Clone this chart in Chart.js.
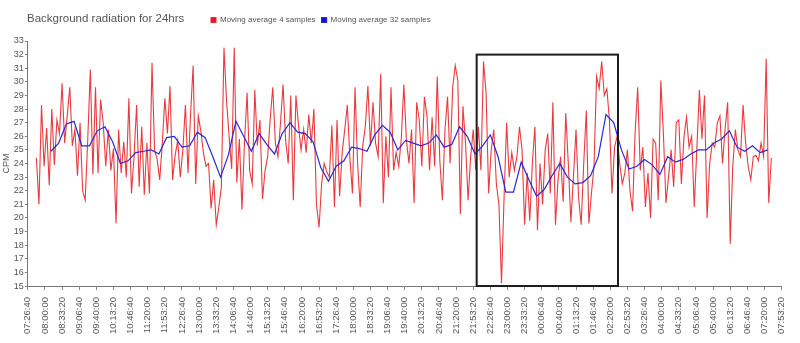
<!DOCTYPE html>
<html>
<head>
<meta charset="utf-8">
<title>Background radiation for 24hrs</title>
<script src="https://cdn.jsdelivr.net/npm/chart.js@4.4.1/dist/chart.umd.min.js"></script>
<style>
  html, body { margin: 0; padding: 0; background: #fff; overflow: hidden; }
  canvas { display: block; }
</style>
</head>
<body>
<canvas id="radiation" width="800" height="343"></canvas>
<script>
const chartTitle = "Background radiation for 24hrs";
const yTitle = "CPM";

// x values are seconds after the first tick, one tick every 2000 s
const axisStart = "07:26:40";
const tickStep = 2000;
const tickLabels = [
    "07:26:40", "08:00:00", "08:33:20", "09:06:40", "09:40:00", "10:13:20", "10:46:40", "11:20:00",
    "11:53:20", "12:26:40", "13:00:00", "13:33:20", "14:06:40", "14:40:00", "15:13:20", "15:46:40",
    "16:20:00", "16:53:20", "17:26:40", "18:00:00", "18:33:20", "19:06:40", "19:40:00", "20:13:20",
    "20:46:40", "21:20:00", "21:53:20", "22:26:40", "23:00:00", "23:33:20", "00:06:40", "00:40:00",
    "01:13:20", "01:46:40", "02:20:00", "02:53:20", "03:26:40", "04:00:00", "04:33:20", "05:06:40",
    "05:40:00", "06:13:20", "06:46:40", "07:20:00", "07:53:20"
];
const cpmMin = 15;
const cpmMax = 33;

// 4 sample moving average, one value every 5 minutes
const avg4Label = "Moving average 4 samples";
const avg4Start = "07:43:20";
const avg4Step = 300;
const avg4 = [
    24.4, 21.0, 28.3, 23.8, 26.6, 22.4, 28.0, 23.9, 27.2, 26.2,
    29.9, 25.5, 27.5, 29.6, 25.3, 26.5, 23.1, 27.0, 22.0, 21.3,
    25.8, 30.9, 23.2, 29.6, 23.3, 28.7, 27.0, 23.8, 26.5, 23.5,
    25.1, 19.6, 26.5, 23.3, 25.6, 23.0, 28.8, 21.8, 24.5, 28.3,
    22.3, 26.7, 21.7, 25.5, 21.8, 31.4, 25.0, 24.3, 22.8, 25.5,
    28.8, 26.2, 29.7, 22.8, 24.6, 25.7, 23.0, 25.0, 28.3, 23.3,
    27.6, 31.2, 22.5, 27.5, 26.4, 24.8, 23.8, 24.0, 20.7, 22.8,
    19.5, 20.8, 22.3, 32.5, 28.6, 26.0, 23.6, 32.5, 22.6, 25.8,
    20.6, 25.6, 29.2, 23.5, 22.5, 29.4, 25.3, 27.2, 21.4, 23.5,
    24.5, 27.3, 29.6, 25.5, 24.5, 27.0, 29.8, 25.7, 24.0, 29.0,
    21.3, 29.0, 26.8, 25.0, 26.5, 24.8, 27.6, 25.5, 28.0, 21.0,
    19.3, 22.5, 24.0, 23.4, 23.0, 26.8, 20.8, 27.2, 21.6, 24.8,
    26.5, 28.3, 24.4, 21.8, 29.6, 24.0, 20.8, 25.3, 26.7, 29.7,
    25.3, 28.5, 25.5, 24.5, 30.6, 21.1, 26.0, 23.0, 29.6, 23.5,
    24.8, 23.8, 25.8, 29.8, 25.7, 24.0, 26.5, 21.1, 28.5, 27.2,
    23.8, 28.9, 27.5, 23.5, 27.4, 23.8, 30.4, 24.2, 21.3, 26.5,
    28.9, 24.0, 29.6, 31.2, 30.1, 20.3, 28.2, 25.5, 21.3, 24.5,
    26.5, 23.5, 26.7, 23.5, 31.5, 29.2, 21.8, 25.0, 26.5, 22.5,
    21.0, 15.2, 21.5, 27.0, 23.0, 24.8, 23.5, 24.5, 26.7, 25.0,
    19.5, 23.3, 19.8, 24.0, 26.7, 19.1, 24.0, 21.0, 25.0, 26.2,
    21.8, 28.5, 19.5, 22.8, 24.5, 21.2, 27.7, 24.0, 19.7, 23.0,
    26.5, 21.5, 19.5, 24.0, 27.9, 19.6, 21.8, 23.8, 30.4, 29.5,
    31.5, 29.0, 29.5, 27.2, 21.8, 25.2, 26.0, 24.0, 22.5, 23.3,
    25.0, 22.0, 20.5, 26.3, 29.6, 23.5, 25.2, 20.8, 23.3, 20.0,
    25.8, 25.5, 21.3, 30.1, 26.2, 21.1, 23.0, 25.0, 22.3, 27.0,
    27.2, 22.5, 25.9, 27.4, 25.2, 26.0, 20.8, 25.0, 29.4, 25.8,
    29.0, 20.0, 24.0, 25.5, 25.2, 27.0, 27.5, 24.0, 26.5, 28.5,
    18.1, 23.8, 26.5, 25.0, 24.5, 28.3, 25.5, 23.8, 22.8, 24.5,
    24.6, 24.2, 25.5, 24.5, 31.7, 21.1, 24.4
];

// 32 sample moving average, read every 15 minutes
const avg32Label = "Moving average 32 samples";
const avg32Start = "08:11:40";
const avg32Step = 900;
const avg32 = [
    24.9, 25.5, 26.9, 27.1, 25.3, 25.3, 26.4, 26.7, 25.6, 24.0,
    24.2, 24.8, 24.9, 25.0, 24.7, 25.9, 26.0, 25.2, 25.3, 26.3,
    25.9, 24.5, 23.0, 24.6, 27.1, 26.0, 24.9, 26.2, 25.4, 24.7,
    26.2, 27.0, 26.3, 26.2, 25.6, 23.7, 22.7, 23.8, 24.2, 25.2,
    25.1, 24.9, 26.1, 26.8, 26.3, 25.0, 25.7, 25.5, 25.3, 25.5,
    26.1, 25.2, 25.4, 26.7, 26.0, 24.7, 25.3, 26.1, 24.5, 21.9,
    21.9, 24.1, 22.8, 21.6, 22.1, 23.1, 24.0, 23.0, 22.5, 22.6,
    23.1, 24.5, 27.6, 27.0, 25.0, 23.6, 23.8, 24.3, 23.9, 23.2,
    24.5, 24.1, 24.3, 24.7, 25.0, 25.0, 25.5, 25.8, 26.4, 25.2,
    24.9, 25.3, 24.8, 25.0
];

// framed stretch around midnight
const boxFrom = "22:00:00";
const boxTo = "02:35:00";
const boxTop = 32;

const toSeconds = s => {
    const [h, m, sec] = s.split(":").map(Number);
    return h * 3600 + m * 60 + sec;
};
const offset = s => {
    const d = toSeconds(s) - toSeconds(axisStart);
    return d < 0 ? d + 86400 : d;
};
const series = (start, step, values) => values.map((v, i) => ({ x: offset(start) + i * step, y: v }));

const FONT = '"Liberation Sans", Arial, sans-serif';

const headerPlugin = {
    id: "header",
    afterLayout(chart) {
        // legend goes on the title line, right of the title
        const lg = chart.legend;
        const h = lg.bottom - lg.top;
        lg.left = 205;
        lg.top = 10;
        lg.bottom = lg.top + h;
    },
    afterDraw(chart) {
        const ctx = chart.ctx;
        ctx.save();
        ctx.font = "11.5px " + FONT;
        ctx.fillStyle = "#555";
        ctx.textBaseline = "middle";
        ctx.fillText(chartTitle, 27, 19);
        ctx.restore();
    }
};

const boxPlugin = {
    id: "nightBox",
    afterDatasetsDraw(chart) {
        const { ctx, scales: { x, y } } = chart;
        const x0 = x.getPixelForValue(offset(boxFrom));
        const x1 = x.getPixelForValue(offset(boxTo));
        const y0 = y.getPixelForValue(boxTop);
        const y1 = y.getPixelForValue(cpmMin);
        ctx.save();
        ctx.strokeStyle = "#1c1c1c";
        ctx.lineWidth = 2;
        ctx.strokeRect(x0, y0, x1 - x0, y1 - y0);
        ctx.restore();
    }
};

const ctx2d = document.getElementById("radiation").getContext("2d");
new Chart(ctx2d, {
    type: "line",
    data: {
        datasets: [{
            label: avg4Label,
            data: series(avg4Start, avg4Step, avg4),
            borderColor: "rgba(232, 30, 38, 0.88)",
            backgroundColor: "#e3152a",
            borderWidth: 1.1,
            order: 2
        }, {
            label: avg32Label,
            data: series(avg32Start, avg32Step, avg32),
            borderColor: "rgb(40, 40, 215)",
            backgroundColor: "#1414c8",
            borderWidth: 1.2,
            order: 1
        }]
    },
    options: {
        responsive: false,
        animation: false,
        devicePixelRatio: 1,
        elements: { point: { radius: 0 }, line: { tension: 0 } },
        layout: { padding: { top: 17, left: 0, right: 15, bottom: 2 } },
        plugins: {
            title: { display: false },
            tooltip: { enabled: false },
            legend: {
                position: "top",
                align: "start",
                labels: {
                    boxWidth: 5,
                    boxHeight: 5,
                    padding: 6,
                    color: "#555",
                    font: { family: FONT, size: 8 },
                    sort: (a, b) => a.datasetIndex - b.datasetIndex
                }
            }
        },
        scales: {
            x: {
                type: "linear",
                min: 0,
                max: (tickLabels.length - 1) * tickStep,
                grid: { display: true, drawOnChartArea: false, tickLength: 4, color: "#888" },
                border: { color: "#777" },
                ticks: {
                    stepSize: tickStep,
                    autoSkip: false,
                    minRotation: 90,
                    maxRotation: 90,
                    padding: 7,
                    color: "#555",
                    font: { family: FONT, size: 9.5 },
                    callback: v => tickLabels[Math.round(v / tickStep)]
                }
            },
            y: {
                min: cpmMin,
                max: cpmMax,
                grid: { display: true, drawOnChartArea: false, tickLength: 3, color: "#888" },
                border: { color: "#777" },
                title: { display: true, text: yTitle, color: "#555", font: { family: FONT, size: 9 }, padding: 1 },
                ticks: {
                    stepSize: 1,
                    autoSkip: false,
                    padding: 1,
                    color: "#555",
                    font: { family: FONT, size: 9 }
                }
            }
        }
    },
    plugins: [headerPlugin, boxPlugin]
});
</script>
</body>
</html>
